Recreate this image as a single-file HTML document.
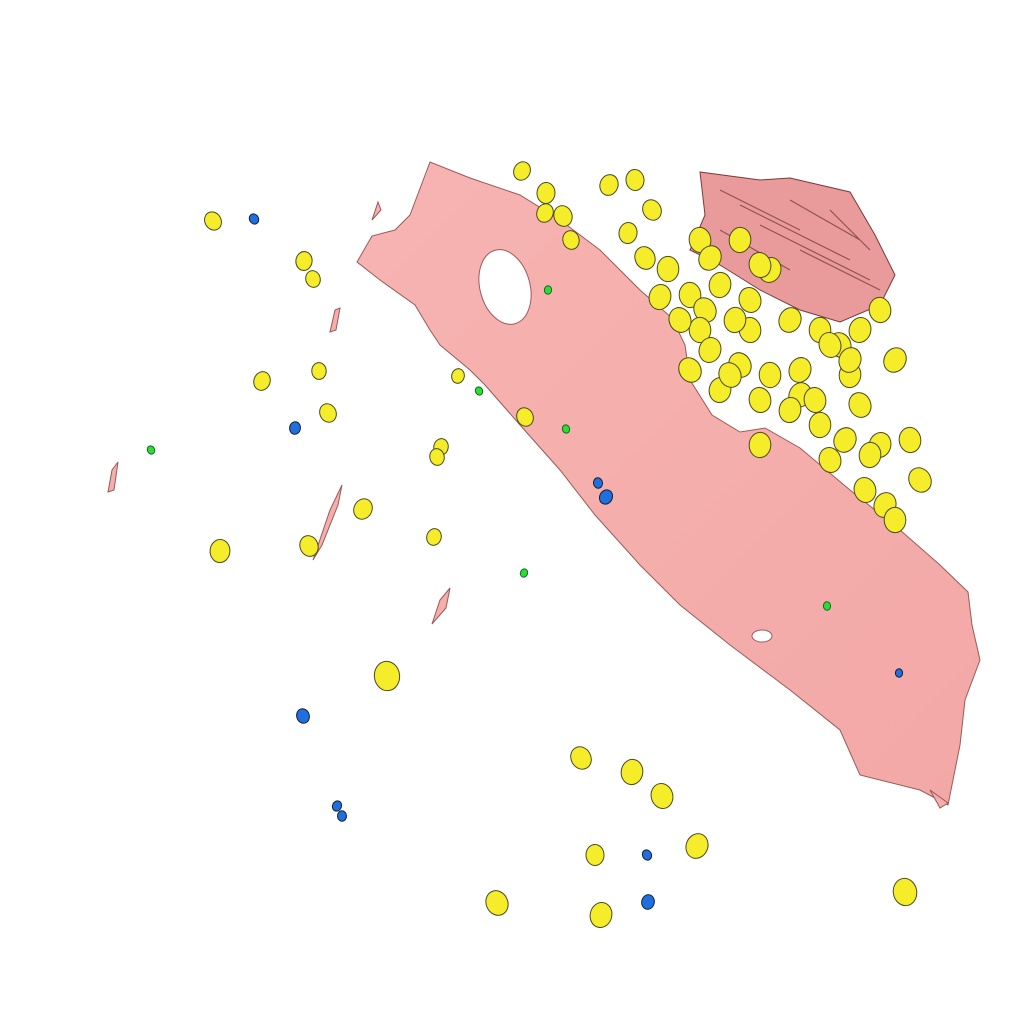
<!DOCTYPE html>
<html><head><meta charset="utf-8"><style>
html,body{margin:0;padding:0;background:#fff;width:1024px;height:1024px;overflow:hidden}
svg{display:block}
</style></head><body>
<svg width="1024" height="1024" viewBox="0 0 1024 1024" xmlns="http://www.w3.org/2000/svg">
<defs>
<linearGradient id="pk" x1="0" y1="0" x2="1" y2="1">
<stop offset="0" stop-color="#f7b4b2"/><stop offset="1" stop-color="#f2a8a6"/>
</linearGradient>
</defs>
<g id="membrane">
<path fill="url(#pk)" stroke="#9a5a58" stroke-width="1"
d="M357,262 L372,236 L395,230 L410,215 L430,162 L470,178 L520,195 L560,220 L600,250 L640,290 L672,318 L685,345 L690,380 L712,415 L740,432 L765,428 L800,448 L850,490 L900,530 L940,565 L968,592 L972,625 L980,660 L965,700 L960,745 L948,805 L920,790 L880,780 L860,775 L840,730 L790,690 L730,645 L680,605 L640,565 L595,515 L560,470 L520,425 L485,385 L470,370 L440,345 L430,330 L415,305 L380,280 Z"/>
<ellipse cx="505" cy="287" rx="25" ry="38" fill="#fff" stroke="#9a5a58" transform="rotate(-15 505 287)"/>
<ellipse cx="762" cy="636" rx="10" ry="6" fill="#fff" stroke="#9a5a58"/>
<path fill="#e99b9b" stroke="#7a3a3a" stroke-width="1"
d="M700,172 L760,180 L790,178 L850,192 L875,235 L895,275 L880,305 L840,322 L800,310 L760,290 L720,265 L690,250 L705,215 Z"/>
<g stroke="#5a2020" stroke-width="1.2" opacity="0.6">
<path d="M720,190 L800,230 M740,205 L850,260 M760,225 L870,280 M790,200 L860,240 M800,250 L880,290 M720,230 L790,270 M830,210 L870,250"/>
</g>
<g fill="#f4aeac" stroke="#9a5a58" stroke-width="1">
<path d="M108,492 L112,470 L118,462 L114,490 Z"/>
<path d="M313,560 L330,510 L342,485 L338,505 L322,545 Z"/>
<path d="M432,624 L440,600 L450,588 L446,608 Z"/>
<path d="M330,332 L335,310 L340,308 L336,330 Z"/>
<path d="M372,220 L378,202 L381,210 Z"/>
<path d="M930,790 L948,803 L940,808 Z"/>
</g>
</g>
<g id="yellow" fill="#f5ec2a" stroke="#4a4a20" stroke-width="1"></g>
<g id="blue" fill="#1f6fe0" stroke="#123" stroke-width="1"></g>
<g id="green" fill="#2ede2e" stroke="#163" stroke-width="1"></g>
</svg>
<script>
const yellowX=[213,304,313,262,319,328,441,437,363,220,309,434,387,581,632,662,697,595,497,601,905,522,546,563,609,635,652,628,571,545,668,645,660,700,710,740,750,770,690,705,720,760,790,820,840,860,880,895,850,830,800,770,740,720,760,800,820,860,880,910,920,870,830,850,700,730,790,815,845,760,680,710,750,690,735,865,885,895,525,458];
const yellowY=[221,261,279,381,371,413,447,457,509,551,546,537,676,758,772,796,846,855,903,915,892,171,193,216,185,180,210,233,240,213,269,258,297,240,258,240,300,270,295,310,285,265,320,330,345,330,310,360,375,345,370,375,365,390,400,395,425,405,445,440,480,455,460,360,330,375,410,400,440,445,320,350,330,370,320,490,505,520,417,376];
const yR=[9,9,8,9,8,9,8,8,10,11,10,8,14,11,12,12,12,10,12,12,13,9,10,10,10,10,10,10,9,9,12,11,12,12,12,12,12,12,12,12,12,12,12,12,12,12,12,12,12,12,12,12,12,12,12,12,12,12,12,12,12,12,12,12,12,12,12,12,12,12,12,12,12,12,12,12,12,12,9,7];
const blueX=[254,295,303,337,342,647,648,598,606,899];
const blueY=[219,428,716,806,816,855,902,483,497,673];
const blueR=[5,6,7,5,5,5,7,5,7,4];
const greenX=[151,548,566,524,827,479];
const greenY=[450,290,429,573,606,391];
const NS='http://www.w3.org/2000/svg';
function blob(g,x,y,r,i){
  const e=document.createElementNS(NS,'ellipse');
  e.setAttribute('cx',x);e.setAttribute('cy',y);
  e.setAttribute('rx',r*0.9);e.setAttribute('ry',r*1.05);
  e.setAttribute('transform','rotate('+((i*37)%60-30)+' '+x+' '+y+')');
  g.appendChild(e);return e;
}
const gy=document.getElementById('yellow');
yellowX.forEach((x,i)=>{const e=blob(gy,x,yellowY[i],yR[i],i);

});
const gb=document.getElementById('blue');
blueX.forEach((x,i)=>{const e=blob(gb,x,blueY[i],blueR[i],i);

});
const gg=document.getElementById('green');
greenX.forEach((x,i)=>{const e=blob(gg,x,greenY[i],4,i);

});
</script>
</body></html>
